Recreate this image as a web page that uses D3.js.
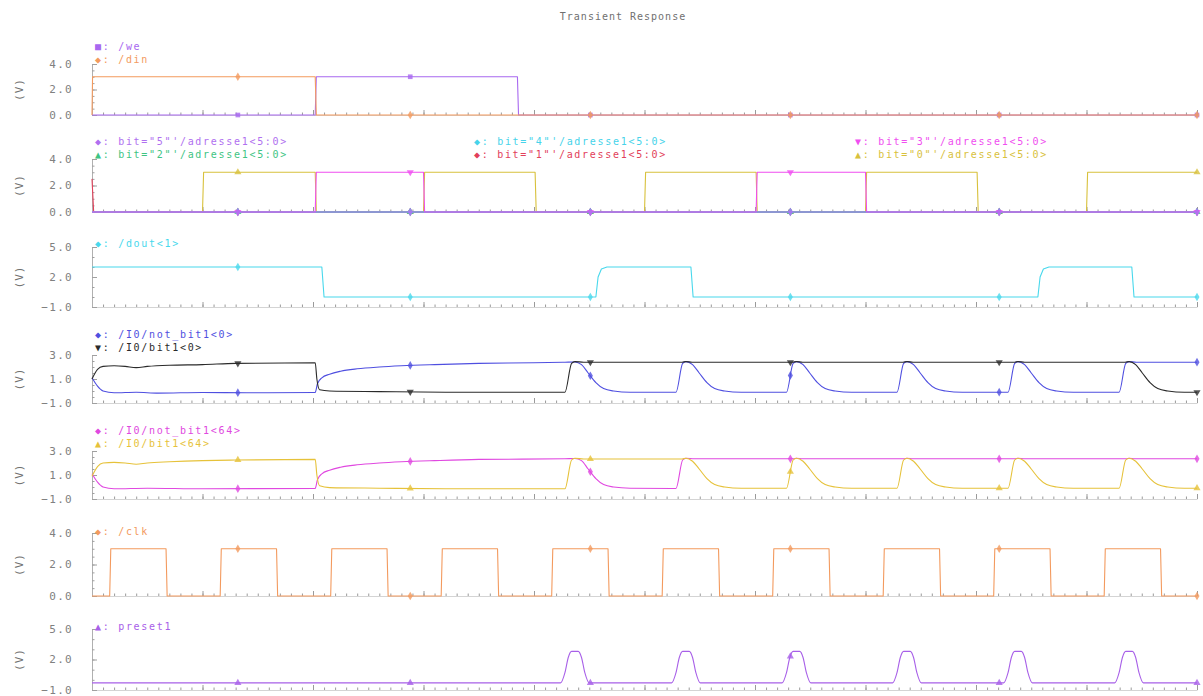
<!DOCTYPE html>
<html><head><meta charset="utf-8">
<script src="https://cdn.jsdelivr.net/npm/d3@7"></script>
<style>
body{margin:0;background:#fff}
svg{display:block;background:#fff}
text{font-family:"DejaVu Sans Mono",monospace}
.title{font-size:10px;fill:#707070;letter-spacing:1px}
.leg{font-size:10px;letter-spacing:1.7px}
.ylab{font-size:11px;fill:#808080;letter-spacing:1.3px}
.vlab{font-size:11px;fill:#707070;letter-spacing:1px}
</style>
</head><body>
<svg id="c" width="1203" height="696"></svg>
<script>
// ---------------- DATA ----------------
const chartTitle = "Transient Response";
const timeDomain = [0, 100];
const markerTimes = [13.2, 28.8, 45.1, 63.2, 82.1, 100];

// panel 1
const weWave  = [[0,0],[20.2,0],[20.3,3],[38.5,3],[38.6,0],[100,0]];
const dinWave = [[0,0],[0.05,3],[20.2,3],[20.3,0],[100,0]];

// panel 2 (address bits)
const bit5Wave = [[0,0],[100,0]];
const bit4Wave = [[0,0],[100,0]];
const bit3Wave = [[0,0],[20.2,0],[20.3,3],[30.0,3],[30.1,0],[60.1,0],[60.2,3],[70.0,3],[70.1,0],[100,0]];
const bit2Wave = [[0,0],[100,0]];
const bit1Wave = [[0,2.5],[0.15,0],[100,0]];
const bit0Wave = [[0,0],[10.0,0],[10.1,3],[20.2,3],[20.3,0],[30.0,0],[30.1,3],[40.1,3],[40.2,0],[50.0,0],[50.1,3],[60.1,3],[60.2,0],[70.0,0],[70.1,3],[80.1,3],[80.2,0],[90.0,0],[90.1,3],[100,3]];

// panel 3
const doutWave = [[0,3],[20.8,3],[21.0,0],[45.6,0],[45.8,2.0],[46.1,2.8],[46.6,3],[54.2,3],[54.4,0],[85.6,0],[85.8,2.0],[86.1,2.8],[86.6,3],[94.1,3],[94.3,0],[100,0]];

// panel 4
const notBit0Wave = [[0,1.1],[0.5,0.4],[1,0.0],[2,-0.15],[4,-0.1],[6,-0.18],[10,-0.12],[14,-0.15],[20.2,-0.12],
  [20.4,0.6],[20.8,1.1],[21.5,1.4],[22.5,1.65],[24,1.85],[26,2.0],[28,2.1],[31,2.2],[35,2.3],[40,2.35],
  [42.8,2.4],[43.7,2.42],[44.3,2.2],[44.9,1.5],[45.6,0.7],[46.3,0.2],[47.2,0.0],[48.7,-0.1],[52.85,-0.1],
  [53.45,2.3],[53.75,2.45],[54.35,2.2],[54.95,1.5],[55.65,0.7],[56.35,0.2],[57.25,0.0],[58.75,-0.1],[62.85,-0.1],
  [63.45,2.3],[63.75,2.45],[64.35,2.2],[64.95,1.5],[65.65,0.7],[66.35,0.2],[67.25,0.0],[68.75,-0.1],[72.85,-0.1],
  [73.45,2.3],[73.75,2.45],[74.35,2.2],[74.95,1.5],[75.65,0.7],[76.35,0.2],[77.25,0.0],[78.75,-0.1],[82.9,-0.1],
  [83.5,2.3],[83.8,2.45],[84.4,2.2],[85.0,1.5],[85.7,0.7],[86.4,0.2],[87.3,0.0],[88.8,-0.1],[92.95,-0.1],
  [93.55,2.3],[93.85,2.45],[94.5,2.4],[96,2.4],[100,2.4]];
const bit0CellWave = [[0,1.0],[0.5,1.8],[1,2.05],[2,2.1],[3,2.05],[4,1.95],[5,2.05],[7,2.15],[10,2.2],[13,2.3],[20.2,2.35],
  [20.35,1.0],[20.6,0.1],[21.5,0.0],[26,-0.05],[32,-0.1],[38,-0.1],[42.8,-0.1],[43.4,2.3],[43.7,2.45],[44.5,2.4],
  [53.4,2.4],[53.75,2.45],[54.3,2.4],[63.4,2.4],[63.75,2.45],[64.3,2.4],[73.4,2.4],[73.75,2.45],[74.3,2.4],
  [83.5,2.4],[83.8,2.45],[84.4,2.4],[93.5,2.4],[93.85,2.45],[94.45,2.2],[95.05,1.5],[95.75,0.7],[96.45,0.2],[97.35,0.0],[98.85,-0.1],[100,-0.1]];

// panel 5
const notBit64Wave = [[0,1.1],[0.5,0.4],[1,0.0],[2,-0.15],[5,-0.1],[10,-0.15],[20.2,-0.12],
  [20.4,0.6],[20.8,1.1],[21.5,1.4],[22.5,1.65],[24,1.85],[26,2.0],[28,2.1],[31,2.2],[35,2.3],[42.8,2.35],
  [43.7,2.38],[44.3,2.2],[44.9,1.5],[45.6,0.7],[46.3,0.2],[47.2,0.0],[48.7,-0.1],[52.85,-0.12],
  [53.45,2.25],[53.75,2.4],[54.5,2.35],[63.5,2.35],[63.75,2.4],[64.3,2.35],[73.5,2.35],[73.75,2.4],[74.3,2.35],
  [83.5,2.35],[83.8,2.4],[84.4,2.35],[93.6,2.35],[93.85,2.4],[94.4,2.35],[100,2.35]];
const bit64CellWave = [[0,0.9],[0.5,1.7],[1,2.0],[2,2.05],[3,2.0],[4,1.9],[5,2.0],[7,2.1],[10,2.2],[13,2.25],[20.2,2.3],
  [20.35,1.0],[20.6,0.1],[21.5,-0.05],[26,-0.1],[32,-0.15],[38,-0.15],[42.8,-0.15],[43.4,2.25],[43.7,2.4],[44.5,2.33],
  [53.4,2.33],[53.75,2.4],[54.35,2.15],[54.95,1.5],[55.65,0.7],[56.35,0.2],[57.25,0.0],[58.75,-0.1],[62.85,-0.1],
  [63.45,2.25],[63.75,2.4],[64.35,2.15],[64.95,1.5],[65.65,0.7],[66.35,0.2],[67.25,0.0],[68.75,-0.1],[72.85,-0.1],
  [73.45,2.25],[73.75,2.4],[74.35,2.15],[74.95,1.5],[75.65,0.7],[76.35,0.2],[77.25,0.0],[78.75,-0.1],[82.9,-0.1],
  [83.5,2.25],[83.8,2.4],[84.4,2.15],[85.0,1.5],[85.7,0.7],[86.4,0.2],[87.3,0.0],[88.8,-0.1],[92.95,-0.1],
  [93.55,2.25],[93.85,2.4],[94.45,2.15],[95.05,1.5],[95.75,0.7],[96.45,0.2],[97.35,0.0],[98.85,-0.1],[100,-0.1]];

// panel 6
const clkWave = [[0,0],[1.6,0],[1.7,3],[6.7,3],[6.8,0],[11.6,0],[11.7,3],[16.7,3],[16.8,0],[21.6,0],[21.7,3],[26.7,3],[26.8,0],
  [31.6,0],[31.7,3],[36.7,3],[36.8,0],[41.6,0],[41.7,3],[46.7,3],[46.8,0],[51.6,0],[51.7,3],[56.7,3],[56.8,0],
  [61.6,0],[61.7,3],[66.7,3],[66.8,0],[71.6,0],[71.7,3],[76.7,3],[76.8,0],[81.6,0],[81.7,3],[86.7,3],[86.8,0],
  [91.6,0],[91.7,3],[96.7,3],[96.8,0],[100,0]];

// panel 7
const presetWave = [[0,-0.3],[42.4,-0.3],[42.8,0.7],[43.1,2.2],[43.4,2.8],[44.0,2.8],[44.3,2.2],[44.6,0.7],[45.0,-0.3],
  [52.45,-0.3],[52.85,0.7],[53.15,2.2],[53.45,2.8],[54.05,2.8],[54.35,2.2],[54.65,0.7],[55.05,-0.3],
  [62.45,-0.3],[62.85,0.7],[63.15,2.2],[63.45,2.8],[64.05,2.8],[64.35,2.2],[64.65,0.7],[65.05,-0.3],
  [72.45,-0.3],[72.85,0.7],[73.15,2.2],[73.45,2.8],[74.05,2.8],[74.35,2.2],[74.65,0.7],[75.05,-0.3],
  [82.5,-0.3],[82.9,0.7],[83.2,2.2],[83.5,2.8],[84.1,2.8],[84.4,2.2],[84.7,0.7],[85.1,-0.3],
  [92.55,-0.3],[92.95,0.7],[93.25,2.2],[93.55,2.8],[94.15,2.8],[94.45,2.2],[94.75,0.7],[95.15,-0.3],[100,-0.3]];

// axes per panel
const yDomains = [[0,4],[0,4],[-1,5],[-1,3],[-1,3],[0,4],[-1,5]];
const yTickValues = [[0,2,4],[0,2,4],[-1,2,5],[-1,1,3],[-1,1,3],[0,2,4],[-1,2,5]];
const yAxisTitle = "(V)";

// series: names, values, panel index (draw order)
const seriesNames = ["/we","/din",
  'bit="0"\'/adresse1<5:0>','bit="1"\'/adresse1<5:0>','bit="2"\'/adresse1<5:0>','bit="4"\'/adresse1<5:0>','bit="3"\'/adresse1<5:0>','bit="5"\'/adresse1<5:0>',
  "/dout<1>","/I0/not_bit1<0>","/I0/bit1<0>","/I0/not_bit1<64>","/I0/bit1<64>","/clk","preset1"];
const seriesValues = [weWave,dinWave,bit0Wave,bit1Wave,bit2Wave,bit4Wave,bit3Wave,bit5Wave,doutWave,notBit0Wave,bit0CellWave,notBit64Wave,bit64CellWave,clkWave,presetWave];
const seriesPanel = [0,0,1,1,1,1,1,1,2,3,3,4,4,5,6];
const seriesAnalog = [false,false,false,false,false,false,false,false,false,true,true,true,true,false,true];

// ---------------- STYLE / LAYOUT ----------------
const seriesColor = ["#a868f0","#f39a5e","#d8c13c","#e2405a","#3ec483","#46d3ea","#f04ef0","#b070f0","#48d8ec","#4f4fe0","#2a2a2a","#e048e0","#e6c23a","#f39a5e","#a860e8"];
const seriesGlyph = ["■","◆","▲","◆","▲","◆","▼","◆","◆","◆","▼","◆","▲","◆","▲"];
// legend slots [col,row] per series
const legendSlot = [[0,0],[0,1],[2,1],[1,1],[0,1],[1,0],[2,0],[0,0],[0,0],[0,0],[0,1],[0,0],[0,1],[0,0],[0,0]];
const legendColX = [95,474,855];
const panelLayout = [
  {top:64,bottom:115,rows:[46,59]},
  {top:159,bottom:212,rows:[141,154]},
  {top:247,bottom:307,rows:[243]},
  {top:355,bottom:403,rows:[334,347]},
  {top:451,bottom:499,rows:[430,443]},
  {top:533,bottom:596,rows:[531]},
  {top:629,bottom:690,rows:[626]}
];

const svg = d3.select("#c");
const x = d3.scaleLinear().domain(timeDomain).range([92,1197]);
const xMinor = d3.range(timeDomain[0], timeDomain[1]+0.001, 1);
const xMajor = d3.range(timeDomain[0], timeDomain[1]+0.001, 10);

svg.append("text").attr("class","title").attr("x",623).attr("y",20).attr("text-anchor","middle").text(chartTitle);

function valueAt(vals,t){
  for(let i=1;i<vals.length;i++){
    if(t<=vals[i][0]){
      const a=vals[i-1],b=vals[i];
      const f=(b[0]===a[0])?1:(t-a[0])/(b[0]-a[0]);
      return a[1]+(b[1]-a[1])*f;
    }
  }
  return vals[vals.length-1][1];
}
const glyphSymbol = {"■":d3.symbolSquare,"◆":d3.symbolDiamond,"▲":d3.symbolTriangle,"▼":d3.symbolTriangle};

const yScales = yDomains.map((d,i)=>d3.scaleLinear().domain(d).range([panelLayout[i].bottom,panelLayout[i].top]));

yDomains.forEach((dom,i)=>{
  const L = panelLayout[i], y = yScales[i];
  const g = svg.append("g");
  // x axis (ticks pointing up)
  const gx = g.append("g").attr("transform",`translate(0,${L.bottom})`);
  gx.call(d3.axisBottom(x).tickValues(xMinor).tickSize(-2.5).tickFormat("").tickSizeOuter(0));
  gx.select(".domain").attr("stroke","#d4d4d4");
  gx.selectAll(".tick line").attr("stroke","#9a9a9a");
  const gx2 = g.append("g").attr("transform",`translate(0,${L.bottom})`);
  gx2.call(d3.axisBottom(x).tickValues(xMajor).tickSize(-5).tickFormat("").tickSizeOuter(0));
  gx2.select(".domain").remove();
  gx2.selectAll(".tick line").attr("stroke","#9a9a9a");
  // y axis
  const step = (dom[1]-dom[0])/ (dom[1]-dom[0] > 4 ? 6 : 8);
  const yMinor = d3.range(dom[0], dom[1]+1e-6, step);
  const gy = g.append("g").attr("transform",`translate(92,0)`);
  gy.call(d3.axisLeft(y).tickValues(yMinor).tickSize(-2.5).tickFormat("").tickSizeOuter(0));
  gy.select(".domain").attr("stroke","#b0b0b0");
  gy.selectAll(".tick line").attr("stroke","#a0a0a0");
  const gy2 = g.append("g").attr("transform",`translate(92,0)`);
  gy2.call(d3.axisLeft(y).tickValues(yTickValues[i]).tickSize(-5).tickPadding(19).tickFormat(d3.format(".1f")).tickSizeOuter(0));
  gy2.select(".domain").remove();
  gy2.selectAll(".tick line").attr("stroke","#a0a0a0");
  gy2.selectAll(".tick text").attr("class","ylab").attr("dy","0.3em");
  // (V)
  g.append("text").attr("class","vlab").attr("transform",`translate(19,${(L.top+L.bottom)/2}) rotate(-90)`)
    .attr("text-anchor","middle").attr("dy","0.35em").text(yAxisTitle);
});

// series
seriesValues.forEach((vals,k)=>{
  const p = seriesPanel[k], y = yScales[p];
  const line = d3.line().x(d=>x(d[0])).y(d=>y(d[1])).curve(seriesAnalog[k]?d3.curveMonotoneX:d3.curveLinear);
  svg.append("path").datum(vals).attr("d",line).attr("fill","none")
    .attr("stroke",seriesColor[k]).attr("stroke-width",1.1).attr("stroke-linejoin","round");
  const sym = d3.symbol().type(glyphSymbol[seriesGlyph[k]]).size(22);
  markerTimes.forEach(t=>{
    svg.append("path").attr("d",sym())
      .attr("transform",`translate(${x(t)},${y(valueAt(vals,t))})${seriesGlyph[k]==="▼"?" rotate(180)":""}`)
      .attr("fill",seriesColor[k]).attr("opacity",0.8);
  });
  // legend
  const slot = legendSlot[k];
  svg.append("text").attr("class","leg").attr("x",legendColX[slot[0]]).attr("y",panelLayout[p].rows[slot[1]])
    .attr("dy","0.35em").attr("fill",seriesColor[k]).text(seriesGlyph[k]+": "+seriesNames[k]);
});
</script>
</body></html>
